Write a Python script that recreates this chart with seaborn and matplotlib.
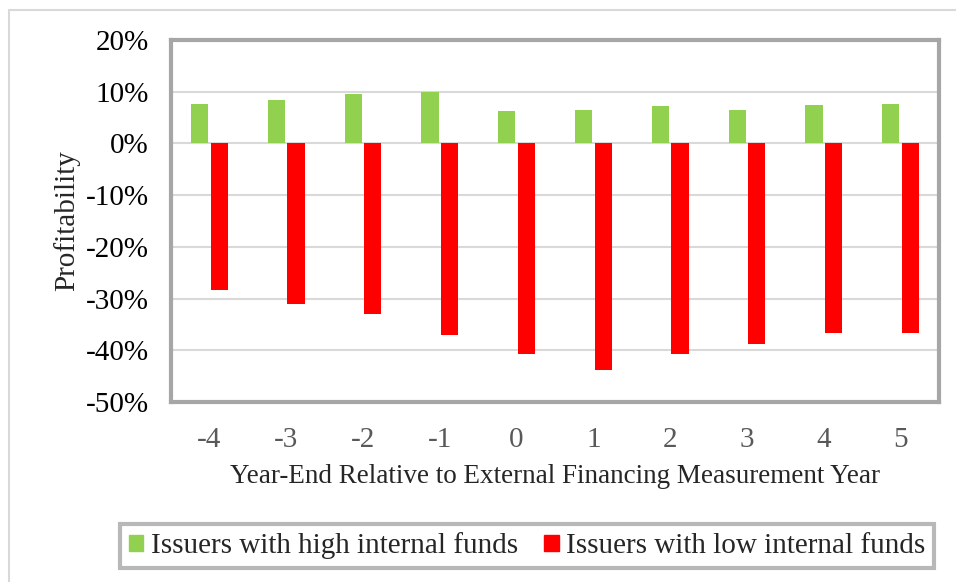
import numpy as np
import pandas as pd
import matplotlib
matplotlib.use("Agg")
import matplotlib.pyplot as plt
import matplotlib.patches as mpatches
from matplotlib.ticker import FuncFormatter
import seaborn as sns

# data (profitability, as fractions)
years = ['-4', '-3', '-2', '-1', '0', '1', '2', '3', '4', '5']
high_funds = [0.076, 0.084, 0.096, 0.100, 0.063, 0.065, 0.072, 0.065, 0.074, 0.077]
low_funds = [-0.283, -0.311, -0.329, -0.371, -0.408, -0.439, -0.407, -0.388, -0.367, -0.366]
series_names = ['Issuers with high internal funds', 'Issuers with low internal funds']
series_colors = ['#92d050', '#ff0000']

df = pd.DataFrame({
    'Year': years * 2,
    'Profitability': high_funds + low_funds,
    'Series': [series_names[0]] * len(years) + [series_names[1]] * len(years),
})

sns.set_style('white')
plt.rcParams['font.family'] = ['Liberation Serif', 'DejaVu Serif']

fig = plt.figure(figsize=(9.56, 5.82), dpi=100)
ax = fig.add_axes([171 / 956, 1 - 402 / 582, (939 - 171) / 956, (402 - 40) / 582])

sns.barplot(data=df, x='Year', y='Profitability', hue='Series', order=years,
            hue_order=series_names, palette=series_colors, width=0.51, gap=0.12,
            linewidth=0, saturation=1, ax=ax, zorder=3)

ax.set_ylim(-0.5, 0.2)
ax.set_xlim(-0.5, 9.5)
ax.set_yticks(np.arange(-0.5, 0.21, 0.1))
ax.yaxis.set_major_formatter(FuncFormatter(lambda v, p: f'{round(v * 100):d}%'))
ax.grid(axis='y', color='#d9d9d9', linewidth=1.5, zorder=0)
ax.set_axisbelow(True)

ax.tick_params(axis='y', labelsize=21, colors='black', pad=16, length=0)
ax.tick_params(axis='x', labelsize=21, colors='#595959', pad=18, length=0)

ax.set_ylabel('Profitability', fontsize=21, labelpad=4)
ax.set_xlabel('Year-End Relative to External Financing Measurement Year', fontsize=19.5, labelpad=8)

for s in ax.spines.values():
    s.set_color('#a6a6a6')
    s.set_linewidth(3)

ax.get_legend().remove()
handles = [mpatches.Patch(color=c, label=n) for c, n in zip(series_colors, series_names)]
leg = fig.legend(handles=handles, loc='center', bbox_to_anchor=(527 / 956, 1 - 546 / 582),
                 ncol=2, fontsize=21, frameon=True, fancybox=False,
                 handlelength=0.5, handleheight=0.5, handletextpad=0.25,
                 columnspacing=0.9, borderpad=0.3)
leg.get_frame().set_edgecolor('#a6a6a6')
leg.get_frame().set_linewidth(3)

# light outer chart-area border
fig.patches.append(mpatches.Rectangle((9 / 956, -0.1), 1.1, 1 - 10 / 582 + 0.1,
                                      transform=fig.transFigure, fill=False,
                                      edgecolor='#d9d9d9', linewidth=1.5))

fig.savefig('out.png', dpi=100)
